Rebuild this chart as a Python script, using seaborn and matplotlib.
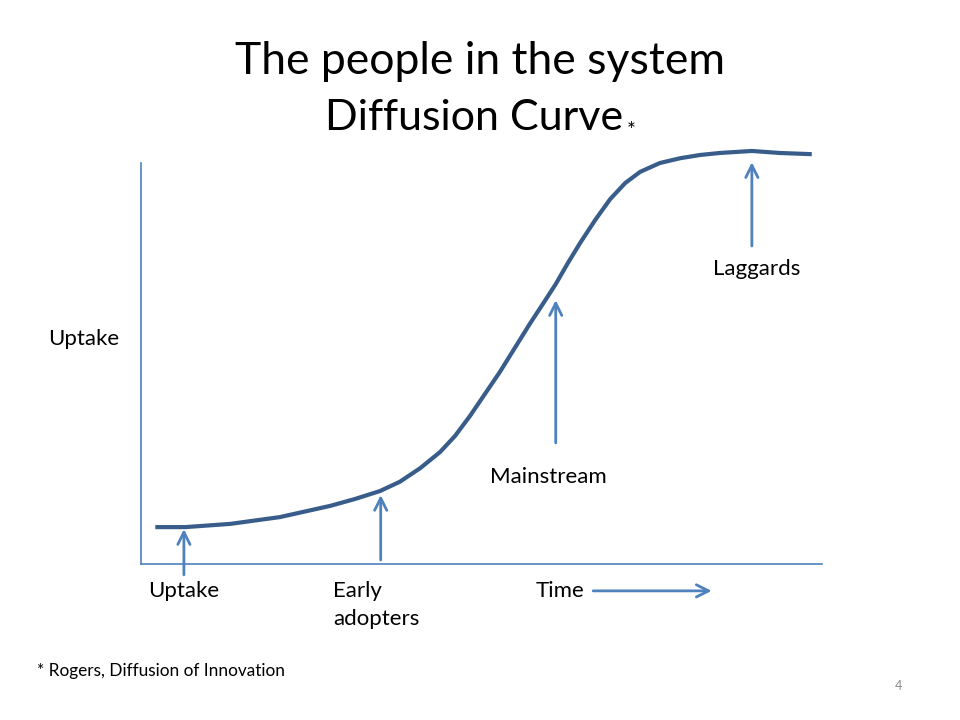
import matplotlib
matplotlib.use("Agg")
import matplotlib.pyplot as plt
import seaborn as sns
import pandas as pd

# diffusion curve (x = time, y = uptake, axis box is 0..100)
time_pts = [2.1, 6.5, 13.1, 20.4, 27.8, 31.4, 35.1, 38.0, 41.0, 43.9, 46.1,
            48.3, 50.5, 52.7, 54.9, 57.1, 59.3, 60.9, 62.7, 64.5, 66.7, 68.9,
            71.1, 73.3, 76.2, 79.2, 82.1, 85.0, 89.7, 93.8, 98.5]
uptake_pts = [9.2, 9.2, 10.0, 11.7, 14.5, 16.2, 18.2, 20.5, 23.9, 27.9, 31.9,
              36.9, 42.4, 47.9, 53.9, 59.9, 65.6, 69.8, 75.1, 80.1, 85.8, 91.0,
              95.0, 97.8, 100.0, 101.2, 102.0, 102.5, 103.0, 102.5, 102.2]

# stage arrows: label, x, y start, y end
stage_names = ["Uptake", "Early adopters", "Mainstream", "Laggards"]
stage_x = [6.3, 35.2, 60.9, 89.7]
stage_y0 = [-2.7, 1.0, 30.2, 79.3]
stage_y1 = [8.7, 17.2, 65.8, 100.2]

curve_col = "#385D8A"
arrow_col = "#4F81BD"

sns.set_theme(style="white")
plt.rcParams["font.family"] = ["Lato", "DejaVu Sans"]
plt.rcParams["text.color"] = "black"

fig = plt.figure(figsize=(9.6, 7.2), dpi=100)
ax = fig.add_axes([141 / 960, 1 - 564 / 720, 681 / 960, 401 / 720])

df = pd.DataFrame({"time": time_pts, "uptake": uptake_pts})
sns.lineplot(data=df, x="time", y="uptake", ax=ax, color=curve_col, lw=3,
             clip_on=False, solid_joinstyle="round", solid_capstyle="butt")

for name, x, y0, y1 in zip(stage_names, stage_x, stage_y0, stage_y1):
    ax.annotate("", xy=(x, y1), xytext=(x, y0),
                arrowprops=dict(arrowstyle="->", color=arrow_col, lw=2,
                                mutation_scale=22, shrinkA=0, shrinkB=0),
                annotation_clip=False)

# time arrow under the x axis
ax.annotate("", xy=(83.8, -6.7), xytext=(66.4, -6.7),
            arrowprops=dict(arrowstyle="->", color=arrow_col, lw=2,
                            mutation_scale=22, shrinkA=0, shrinkB=0),
            annotation_clip=False)

ax.set_xlim(0, 100)
ax.set_ylim(0, 100)
ax.set_xticks([])
ax.set_yticks([])
ax.set_xlabel("")
ax.set_ylabel("")
for s in ["top", "right"]:
    ax.spines[s].set_visible(False)
for s in ["left", "bottom"]:
    ax.spines[s].set_color(arrow_col)
    ax.spines[s].set_linewidth(1.2)

fs = 16
kw = dict(fontsize=fs, color="black", va="center", ha="left", clip_on=False)
ax.text(-13.7, 56.1, "Uptake", **kw)
ax.text(1.0, -6.7, "Uptake", **kw)
ax.text(28.2, -6.7, "Early", **kw)
ax.text(28.2, -13.7, "adopters", **kw)
ax.text(57.9, -6.7, "Time", **kw)
ax.text(51.2, 21.7, "Mainstream", **kw)
ax.text(84.0, 73.6, "Laggards", **kw)

fig.text(0.5, 1 - 62 / 720, "The people in the system", fontsize=32,
         ha="center", va="center")
fig.text(474 / 960, 1 - 118 / 720, "Diffusion Curve", fontsize=31,
         ha="center", va="center")
fig.text(627 / 960, 1 - 131 / 720, "*", fontsize=15, ha="left", va="center")
fig.text(37 / 960, 1 - 671 / 720, "* Rogers, Diffusion of Innovation",
         fontsize=12.4, ha="left", va="center")
fig.text(898 / 960, 1 - 686 / 720, "4", fontsize=9, color="#8C8C8C",
         ha="center", va="center")

fig.savefig("out.png", dpi=100)
